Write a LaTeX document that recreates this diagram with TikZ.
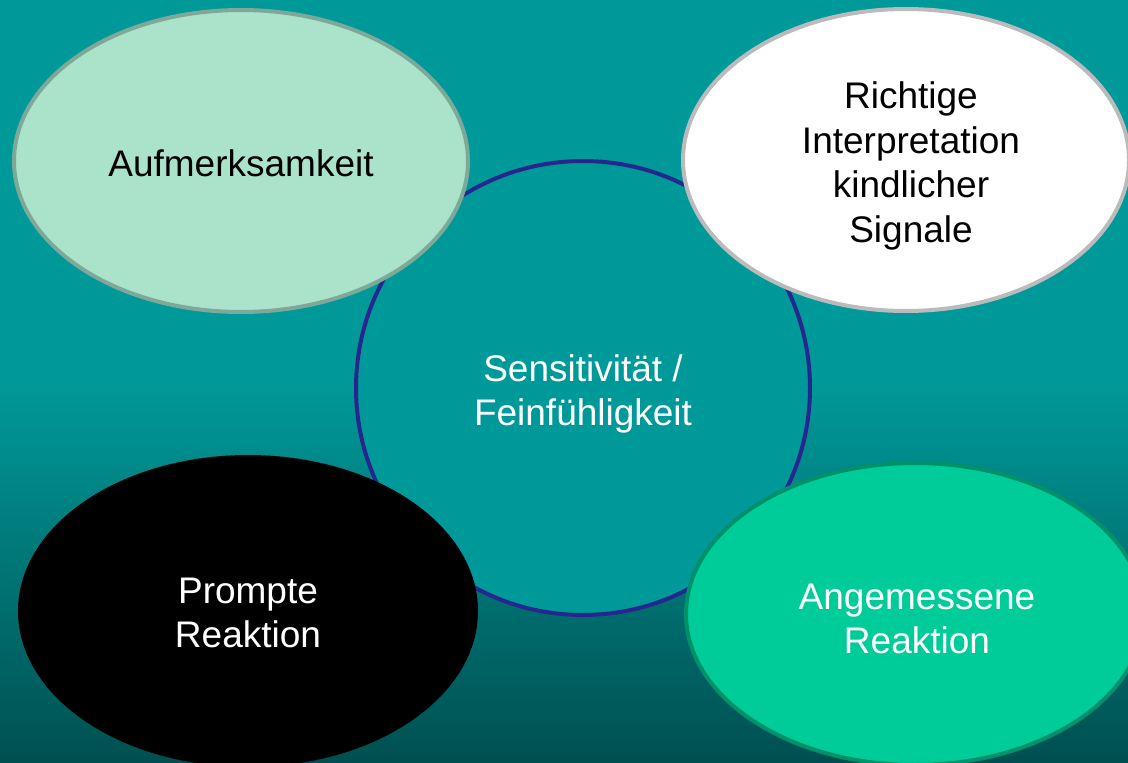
\documentclass[tikz,border=0pt]{standalone}
\usepackage{fontspec}
\setmainfont{Liberation Sans}
\usetikzlibrary{shapes.geometric}
\definecolor{bgtop}{HTML}{009999}
\definecolor{bgbot}{HTML}{004F50}
\definecolor{navyline}{HTML}{26268F}
\definecolor{mintfill}{HTML}{AAE2CA}
\definecolor{mintline}{HTML}{7EA898}
\definecolor{greyline}{HTML}{BBBBBB}
\definecolor{greenfill}{HTML}{00CC99}
\definecolor{greenline}{HTML}{00906A}
\tikzset{
  bubble/.style={ellipse, inner sep=0pt, line width=4pt,
    minimum width=454pt, minimum height=302pt},
  label text/.style={inner sep=0pt, align=center,
    font=\fontsize{37}{44.5}\selectfont},
}
\begin{document}
\begin{tikzpicture}[x=1pt,y=-1pt]
\useasboundingbox (0,0) rectangle (1128,763);
\fill[bgtop] (0,0) rectangle (1128,384);
\shade[top color=bgtop, bottom color=bgbot] (0,383) rectangle (1128,763);
\node[circle, draw=navyline, fill=bgtop, line width=4pt, minimum size=454pt,
      inner sep=0pt] (center) at (583,388) {};
\node[label text, text=white] (centerT) at (583,394) {Sensitivität /\\Feinfühligkeit};
\node[bubble, draw=mintline, fill=mintfill] (auf) at (241,161) {};
\node[label text, text=black] (aufT) at (241,163) {Aufmerksamkeit};
\node[bubble, draw=greyline, fill=white, minimum width=446pt] (richt) at (906,160) {};
\node[label text, text=black] (richtT) at (911,166) {Richtige\\Interpretation\\kindlicher\\Signale};
\node[bubble, draw=black, fill=black, minimum width=456pt, minimum height=308pt] (prompt) at (248,611) {};
\node[label text, text=white] (promptT) at (248,613) {Prompte\\Reaktion};
\node[bubble, draw=greenline, fill=greenfill, minimum width=458pt] (angem) at (915,614) {};
\node[label text, text=white] (angemT) at (917,619) {Angemessene\\Reaktion};
\end{tikzpicture}
\end{document}
